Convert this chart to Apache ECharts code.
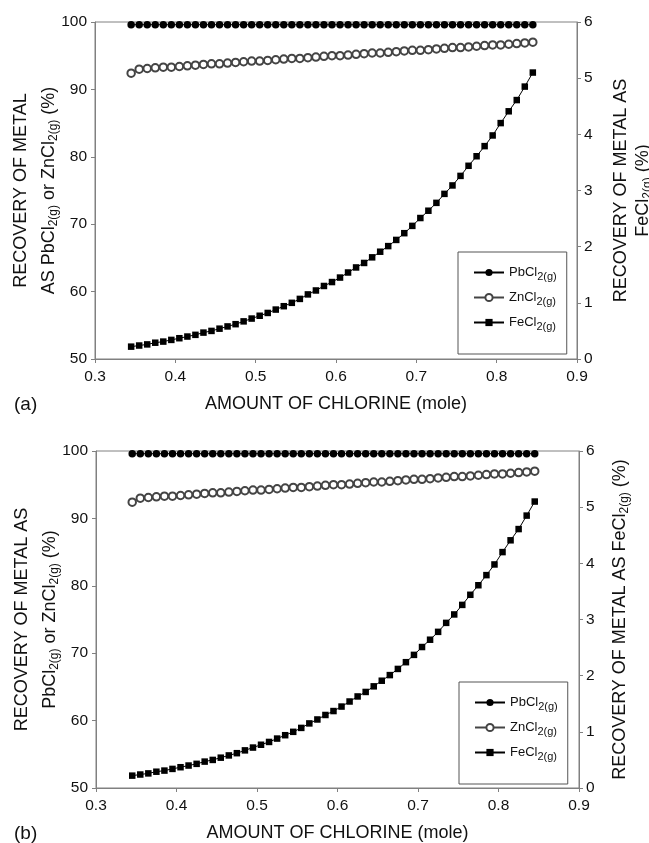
<!DOCTYPE html>
<html>
<head>
<meta charset="utf-8">
<script src="https://cdn.jsdelivr.net/npm/echarts@6/dist/echarts.min.js"></script>
<style>
  html, body { margin: 0; padding: 0; background: #fff; }
  #main { width: 649px; height: 843px; }
</style>
</head>
<body>
<div id="main"></div>
<script>
// ------------------------------------------------------
// Data
// ------------------------------------------------------
var chlorine = [
  0.345, 0.355, 0.365, 0.375, 0.385, 0.395, 0.405, 0.415, 0.425, 0.435,
  0.445, 0.455, 0.465, 0.475, 0.485, 0.495, 0.505, 0.515, 0.525, 0.535,
  0.545, 0.555, 0.565, 0.575, 0.585, 0.595, 0.605, 0.615, 0.625, 0.635,
  0.645, 0.655, 0.665, 0.675, 0.685, 0.695, 0.705, 0.715, 0.725, 0.735,
  0.745, 0.755, 0.765, 0.775, 0.785, 0.795, 0.805, 0.815, 0.825, 0.835,
  0.845
]

// PbCl2(g) recovery (%), left axis
var pbcl2 = [
  99.6, 99.6, 99.6, 99.6, 99.6, 99.6, 99.6, 99.6, 99.6, 99.6,
  99.6, 99.6, 99.6, 99.6, 99.6, 99.6, 99.6, 99.6, 99.6, 99.6,
  99.6, 99.6, 99.6, 99.6, 99.6, 99.6, 99.6, 99.6, 99.6, 99.6,
  99.6, 99.6, 99.6, 99.6, 99.6, 99.6, 99.6, 99.6, 99.6, 99.6,
  99.6, 99.6, 99.6, 99.6, 99.6, 99.6, 99.6, 99.6, 99.6, 99.6,
  99.6
]

// ZnCl2(g) recovery (%), left axis
var zncl2 = [
  92.4, 93.0, 93.1, 93.2, 93.3, 93.3, 93.4, 93.5, 93.6, 93.7,
  93.8, 93.8, 93.9, 94.0, 94.1, 94.2, 94.2, 94.3, 94.4, 94.5,
  94.6, 94.6, 94.7, 94.8, 94.9, 95.0, 95.0, 95.1, 95.2, 95.3,
  95.4, 95.4, 95.5, 95.6, 95.7, 95.8, 95.8, 95.9, 96.0, 96.1,
  96.2, 96.2, 96.3, 96.4, 96.5, 96.6, 96.6, 96.7, 96.8, 96.9,
  97.0
]

// FeCl2(g) recovery (%), right axis
var fecl2 = [
  0.22, 0.24, 0.26, 0.29, 0.31, 0.34, 0.37, 0.40, 0.43, 0.47,
  0.50, 0.54, 0.58, 0.62, 0.67, 0.72, 0.77, 0.82, 0.88, 0.94,
  1.00, 1.07, 1.15, 1.22, 1.30, 1.37, 1.45, 1.54, 1.63, 1.71,
  1.81, 1.91, 2.01, 2.12, 2.24, 2.37, 2.51, 2.64, 2.78, 2.94,
  3.09, 3.26, 3.44, 3.61, 3.79, 3.98, 4.20, 4.41, 4.61, 4.85,
  5.10
]

var seriesNames = ['PbCl2(g)', 'ZnCl2(g)', 'FeCl2(g)']

// Helpers
var FONT = '"Liberation Sans", Arial, sans-serif'
var AXIS_GREY = '#808080'

function pairs(ys) {
  return chlorine.map(function (x, i) { return [x, ys[i]] })
}

var subRich = {
  sub: { fontSize: 12, fontFamily: FONT, color: '#111', padding: [9, 0, 0, 0] }
}

function legendLabel(name) {
  // 'PbCl2(g)' -> 'PbCl{s|2(g)}'
  return name.replace('2(g)', '{s|2(g)}')
}

function xAxisFor(grid, gap) {
  return {
    type: 'value', gridIndex: grid, min: 0.3, max: 0.9, interval: 0.1,
    name: 'AMOUNT OF CHLORINE (mole)', nameLocation: 'middle', nameGap: gap,
    nameMoveOverlap: false,
    nameTextStyle: { fontSize: 18, fontFamily: FONT, color: '#111' },
    axisLine: { lineStyle: { color: AXIS_GREY, width: 1 } },
    axisTick: { length: 4, lineStyle: { color: AXIS_GREY } },
    axisLabel: { fontSize: 15.5, fontFamily: FONT, color: '#111', margin: 10,
      formatter: function (v) { return v.toFixed(1) } },
    splitLine: { show: false }
  }
}

function leftAxisFor(grid, name) {
  return {
    type: 'value', gridIndex: grid, min: 50, max: 100, interval: 10,
    name: name, nameLocation: 'middle', nameRotate: 90, nameGap: 32,
    nameMoveOverlap: false,
    nameTextStyle: { fontSize: 18, fontFamily: FONT, color: '#111', lineHeight: 28, rich: subRich },
    axisLine: { show: true, lineStyle: { color: AXIS_GREY, width: 1 } },
    axisTick: { show: true, length: 4, lineStyle: { color: AXIS_GREY } },
    axisLabel: { fontSize: 15.5, fontFamily: FONT, color: '#111', margin: 8 },
    splitLine: { show: false }
  }
}

function rightAxisFor(grid, name, gap) {
  return {
    type: 'value', gridIndex: grid, position: 'right', min: 0, max: 6, interval: 1,
    name: name, nameLocation: 'middle', nameRotate: 90, nameGap: gap,
    nameMoveOverlap: false,
    nameTextStyle: { fontSize: 18, fontFamily: FONT, color: '#111', lineHeight: 22, rich: subRich },
    axisLine: { show: true, lineStyle: { color: AXIS_GREY, width: 1 } },
    axisTick: { show: true, length: 4, lineStyle: { color: AXIS_GREY } },
    axisLabel: { fontSize: 15.5, fontFamily: FONT, color: '#111', margin: 7 },
    splitLine: { show: false }
  }
}

function seriesFor(grid) {
  var xi = grid, yl = grid * 2, yr = grid * 2 + 1
  var line = { color: '#000', width: 1 }
  return [
    {
      name: seriesNames[0], type: 'line', xAxisIndex: xi, yAxisIndex: yl,
      data: pairs(pbcl2), symbol: 'circle', symbolSize: 7.5,
      itemStyle: { color: '#000' }, lineStyle: line
    },
    {
      name: seriesNames[1], type: 'line', xAxisIndex: xi, yAxisIndex: yl,
      data: pairs(zncl2), symbol: 'emptyCircle', symbolSize: 7.5,
      itemStyle: { color: '#444', borderWidth: 1 }, lineStyle: { color: '#444', width: 1 }
    },
    {
      name: seriesNames[2], type: 'line', xAxisIndex: xi, yAxisIndex: yr,
      data: pairs(fecl2), symbol: 'rect', symbolSize: 6.5,
      itemStyle: { color: '#000' }, lineStyle: line
    }
  ]
}

function legendFor(left, top) {
  return {
    left: left, top: top, orient: 'vertical',
    data: seriesNames,
    borderColor: '#555', borderWidth: 1,
    padding: [13, 10, 22, 15],
    itemWidth: 30, itemHeight: 9, itemGap: 8,
    formatter: legendLabel,
    textStyle: {
      fontSize: 13, fontFamily: FONT, color: '#111', lineHeight: 15,
      rich: { s: { fontSize: 11, fontFamily: FONT, color: '#111', padding: [8, 0, 0, 0] } }
    }
  }
}

var chartDom = document.getElementById('main')
var myChart = echarts.init(chartDom, null, { renderer: 'canvas' })

var gridBase = { show: true, borderColor: AXIS_GREY, borderWidth: 1, containLabel: false, outerBoundsMode: 'none' }

var option = {
  animation: false,
  backgroundColor: '#fff',
  title: [
    { text: '(a)', left: 9, top: 390, textStyle: { fontSize: 19, fontWeight: 'normal', fontFamily: FONT, color: '#111' } },
    { text: '(b)', left: 9, top: 819, textStyle: { fontSize: 19, fontWeight: 'normal', fontFamily: FONT, color: '#111' } }
  ],
  grid: [
    Object.assign({ left: 95, top: 22, width: 482, height: 337 }, gridBase),
    Object.assign({ left: 96, top: 451, width: 483, height: 337 }, gridBase)
  ],
  legend: [legendFor(458, 252), legendFor(459, 682)],
  xAxis: [xAxisFor(0, 36), xAxisFor(1, 36)],
  yAxis: [
    leftAxisFor(0, 'RECOVERY OF METAL\nAS PbCl{sub|2(g)} or ZnCl{sub|2(g)} (%)'),
    rightAxisFor(0, 'RECOVERY OF METAL AS\nFeCl{sub|2(g)} (%)', 33),
    leftAxisFor(1, 'RECOVERY OF METAL AS\nPbCl{sub|2(g)} or ZnCl{sub|2(g)} (%)'),
    rightAxisFor(1, 'RECOVERY OF METAL AS FeCl{sub|2(g)} (%)', 30)
  ],
  series: seriesFor(0).concat(seriesFor(1))
}

option && myChart.setOption(option)
</script>
</body>
</html>
